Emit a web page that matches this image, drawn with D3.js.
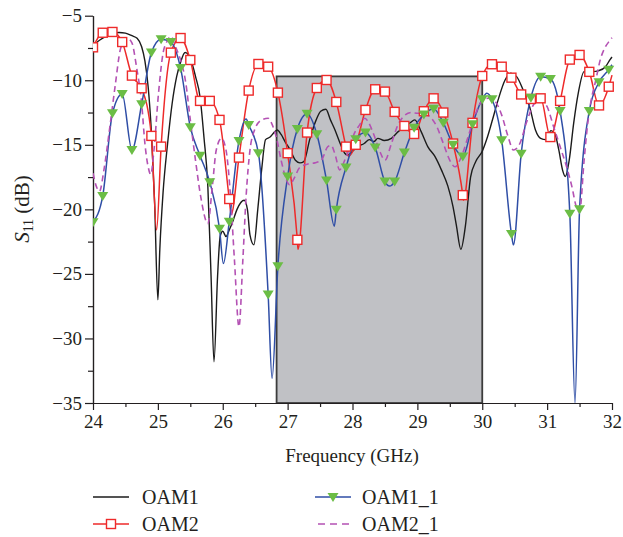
<!DOCTYPE html>
<html>
<head>
<meta charset="utf-8">
<script src="https://cdn.jsdelivr.net/npm/d3@7"></script>
<style>
  body { margin: 0; background: #fff; }
  text { font-family: "Liberation Serif", serif; fill: #231f20; }
</style>
</head>
<body>
<svg id="chart" width="623" height="537"></svg>
<script>
// marker frequencies (GHz) shared by OAM2 and OAM1_1
const markFreq = [24.00,24.15,24.30,24.45,24.60,24.75,24.90,25.05,25.20,25.35,
                  25.50,25.65,25.80,25.95,26.10,26.25,26.40,26.55,26.70,26.85,
                  27.00,27.15,27.30,27.45,27.60,27.75,27.90,28.05,28.20,28.35,
                  28.50,28.65,28.80,28.95,29.10,29.25,29.40,29.55,29.70,29.85,
                  30.00,30.15,30.30,30.45,30.60,30.75,30.90,31.05,31.20,31.35,
                  31.50,31.65,31.80,31.95];

const oam2Marks = [-7.45,-6.32,-6.26,-7.04,-9.64,-10.62,-14.31,-15.14,-7.86,-6.73,
                   -8.43,-11.6,-11.6,-13.07,-19.2,-15.99,-10.8,-8.74,-8.95,-10.96,
                   -15.65,-22.36,-14.05,-10.6,-9.98,-11.68,-15.14,-15.0,-12.3,-10.7,
                   -10.88,-12.45,-13.54,-14.16,-12.4,-11.4,-12.5,-14.9,-18.9,-13.3,
                   -9.67,-8.76,-8.95,-9.8,-11.1,-11.45,-11.4,-14.4,-11.6,-8.4,
                   -8.04,-9.35,-11.95,-10.5];
// extra line points between markers (dips)
const oam2Extra = [[24.98,-21.6],[26.13,-20.4],[27.16,-23.1],[27.94,-15.9],[29.71,-19.3],[32.0,-9.6]];

const oam11Marks = [-21.0,-18.96,-12.56,-11.06,-15.4,-11.86,-7.86,-6.83,-7.04,-9.06,
                    -13.64,-15.84,-17.9,-21.5,-20.97,-14.7,-13.46,-15.65,-26.6,-24.4,
                    -17.46,-13.77,-12.6,-14.18,-17.77,-20.04,-16.76,-14.57,-14.05,-15.2,
                    -17.85,-17.85,-15.6,-13.67,-12.65,-12.2,-13.3,-15.0,-15.9,-13.4,
                    -11.47,-11.47,-14.65,-21.9,-15.7,-11.35,-9.72,-9.9,-12.38,-20.35,
                    -20.0,-12.38,-10.15,-9.18];
const oam11Extra = [[26.01,-24.2],[26.36,-13.0],[26.76,-33.1],[27.72,-21.3],[28.57,-18.2],
                    [30.07,-11.0],[30.48,-22.75],[31.43,-35],[32.0,-8.8]];

const oam1 = [[24.0,-7.3],[24.1,-6.9],[24.2,-6.6],[24.3,-6.4],[24.4,-6.3],[24.5,-6.35],[24.6,-6.55],
  [24.68,-6.75],[24.75,-7.4],[24.8,-8.5],[24.85,-10.5],[24.9,-14.0],[24.95,-19.5],[25.0,-27.0],
  [25.03,-23.1],[25.08,-18.7],[25.15,-14.9],[25.22,-11.8],[25.29,-9.7],[25.35,-8.6],[25.42,-7.85],
  [25.5,-8.3],[25.58,-9.7],[25.65,-11.3],[25.71,-14.4],[25.77,-18.2],[25.82,-25.2],[25.865,-31.8],
  [25.92,-25.2],[25.96,-22.1],[26.0,-21.7],[26.05,-22.1],[26.1,-21.6],[26.15,-21.0],[26.22,-20.0],
  [26.33,-19.3],[26.38,-20.0],[26.42,-22.0],[26.48,-22.75],[26.54,-20.0],[26.6,-16.9],[26.66,-14.6],
  [26.73,-14.4],[26.8,-14.0],[26.84,-13.85],[26.9,-14.2],[26.96,-14.75],[27.04,-15.4],[27.12,-16.2],
  [27.19,-16.4],[27.25,-16.3],[27.34,-14.6],[27.44,-13.07],[27.51,-12.4],[27.59,-12.25],[27.66,-13.07],
  [27.73,-13.85],[27.81,-14.9],[27.88,-15.65],[27.93,-15.8],[28.0,-15.5],[28.08,-15.14],[28.18,-14.9],
  [28.26,-14.6],[28.33,-14.75],[28.39,-14.5],[28.49,-14.67],[28.6,-14.5],[28.7,-14.0],[28.78,-13.7],
  [28.88,-13.33],[28.96,-13.07],[29.06,-14.0],[29.16,-15.14],[29.27,-15.9],[29.37,-16.94],[29.47,-18.2],
  [29.55,-19.8],[29.6,-21.2],[29.67,-23.1],[29.74,-21.3],[29.82,-17.5],[29.9,-16.3],[30.0,-15.5],
  [30.08,-14.4],[30.15,-13.2],[30.24,-11.6],[30.35,-10.0],[30.44,-9.46],[30.53,-9.72],[30.63,-10.75],
  [30.73,-12.05],[30.82,-13.85],[30.9,-14.5],[30.98,-14.6],[31.06,-13.9],[31.12,-14.15],[31.18,-15.4],
  [31.24,-17.0],[31.28,-17.46],[31.34,-16.2],[31.41,-13.3],[31.48,-11.0],[31.57,-9.33],[31.7,-9.33],
  [31.8,-9.25],[31.9,-8.95],[31.97,-8.4],[32.0,-8.2]];

const oam21 = [[24.0,-17.2],[24.05,-18.2],[24.1,-18.6],[24.17,-16.9],[24.26,-13.6],[24.34,-10.5],
  [24.42,-7.65],[24.47,-7.0],[24.53,-6.75],[24.6,-7.1],[24.67,-8.95],[24.75,-11.8],[24.8,-14.9],
  [24.85,-16.7],[24.89,-17.3],[24.94,-15.4],[25.01,-11.0],[25.08,-7.9],[25.14,-7.0],[25.2,-6.6],
  [25.28,-7.5],[25.35,-8.43],[25.43,-10.2],[25.5,-13.07],[25.58,-16.2],[25.66,-19.0],[25.77,-21.1],
  [25.84,-18.2],[25.9,-15.4],[25.98,-14.5],[26.05,-15.4],[26.12,-19.0],[26.18,-23.9],[26.25,-29.1],
  [26.31,-23.9],[26.36,-19.0],[26.42,-15.4],[26.49,-13.85],[26.6,-13.07],[26.7,-12.94],[26.75,-13.3],
  [26.83,-14.5],[26.9,-16.2],[26.98,-17.7],[27.03,-18.1],[27.11,-17.5],[27.18,-16.8],[27.3,-16.5],
  [27.42,-16.4],[27.52,-16.2],[27.62,-15.14],[27.67,-15.05],[27.74,-15.9],[27.8,-16.94],[27.88,-16.2],
  [27.96,-15.14],[28.03,-14.1],[28.11,-13.46],[28.19,-12.94],[28.24,-13.2],[28.32,-14.1],[28.42,-15.5],
  [28.5,-16.2],[28.6,-14.9],[28.7,-13.46],[28.81,-12.7],[28.91,-12.5],[29.01,-12.56],[29.11,-12.56],
  [29.19,-12.8],[29.3,-13.6],[29.4,-14.9],[29.5,-16.2],[29.58,-16.7],[29.68,-15.9],[29.78,-14.4],
  [29.89,-12.7],[29.99,-11.65],[30.09,-11.4],[30.2,-11.65],[30.3,-12.7],[30.4,-14.4],[30.48,-15.4],
  [30.58,-14.9],[30.68,-13.3],[30.79,-11.9],[30.89,-11.5],[31.0,-12.05],[31.1,-13.6],[31.2,-15.14],
  [31.3,-16.7],[31.38,-18.2],[31.45,-19.8],[31.5,-20.2],[31.57,-16.2],[31.62,-13.6],[31.67,-11.8],
  [31.75,-10.0],[31.82,-8.4],[31.9,-7.4],[31.97,-6.9],[32.0,-6.7]];

// shaded band
const band = {f0: 26.83, f1: 30.0, top: -9.7};

const xTicks = [24,25,26,27,28,29,30,31,32];
const xMinor = [24.5,25.5,26.5,27.5,28.5,29.5,30.5,31.5];
const yTicks = [-35,-30,-25,-20,-15,-10,-5];
const yMinor = [-32.5,-27.5,-22.5,-17.5,-12.5,-7.5];

const colors = {oam1: "#1b1b1b", oam2: "#ee2a2a", oam11: "#2f4ea6", tri: "#6bbd45", oam21: "#b452b4"};

const svg = d3.select("#chart");
const x = d3.scaleLinear().domain([24, 32]).range([93, 612]);
const y = d3.scaleLinear().domain([-35, -5]).range([403, 15.7]);

svg.append("defs").append("clipPath").attr("id", "plot")
  .append("rect").attr("x", 93).attr("y", 10).attr("width", 522).attr("height", 393);

svg.append("rect")
  .attr("x", x(band.f0)).attr("y", y(band.top))
  .attr("width", x(band.f1) - x(band.f0)).attr("height", y(-35) - y(band.top))
  .attr("fill", "#c0c1c5").attr("stroke", "#3c3c3c").attr("stroke-width", 1.8);

// axes
const fmt = d3.format("d");
svg.append("g").attr("transform", "translate(0,403)")
  .call(d3.axisBottom(x).tickValues(xTicks).tickFormat(fmt).tickSize(7).tickSizeOuter(0).tickPadding(5));
svg.append("g").attr("transform", "translate(0,403)")
  .call(d3.axisBottom(x).tickValues(xMinor).tickFormat("").tickSize(4).tickSizeOuter(0));
svg.append("g").attr("transform", "translate(93,0)")
  .call(d3.axisLeft(y).tickValues(yTicks).tickFormat(fmt).tickSize(8).tickSizeOuter(0).tickPadding(3));
svg.append("g").attr("transform", "translate(93,0)")
  .call(d3.axisLeft(y).tickValues(yMinor).tickFormat("").tickSize(5).tickSizeOuter(0));
svg.selectAll(".domain, .tick line").attr("stroke", "#231f20").attr("stroke-width", 1.2);
svg.selectAll(".tick text").attr("font-size", 19).attr("font-family", "Liberation Serif").attr("fill", "#231f20");

// curves
const line = d3.line().x(d => x(d[0])).y(d => y(d[1])).curve(d3.curveMonotoneX);
const g = svg.append("g").attr("clip-path", "url(#plot)");

const oam2Pts = markFreq.map((f, i) => [f, oam2Marks[i]]);
const oam2Line = oam2Pts.concat(oam2Extra).sort((a, b) => a[0] - b[0]);
const oam11Pts = markFreq.map((f, i) => [f, oam11Marks[i]]);
const oam11Line = oam11Pts.concat(oam11Extra).sort((a, b) => a[0] - b[0]);

g.append("path").datum(oam1).attr("d", line)
  .attr("fill", "none").attr("stroke", colors.oam1).attr("stroke-width", 1.4);
g.append("path").datum(oam2Line).attr("d", line)
  .attr("fill", "none").attr("stroke", colors.oam2).attr("stroke-width", 1.5);
g.append("path").datum(oam11Line).attr("d", line)
  .attr("fill", "none").attr("stroke", colors.oam11).attr("stroke-width", 1.5);
g.append("path").datum(oam21).attr("d", line)
  .attr("fill", "none").attr("stroke", colors.oam21).attr("stroke-width", 1.6)
  .attr("stroke-dasharray", "6,4");

const tri = "M-5.5,-4 L5.5,-4 L0,5 Z";

g.selectAll(".sq").data(oam2Pts).enter().append("rect")
  .attr("x", d => x(d[0]) - 4.5).attr("y", d => y(d[1]) - 4.5)
  .attr("width", 9).attr("height", 9)
  .attr("fill", "#fff").attr("stroke", colors.oam2).attr("stroke-width", 1.4);

g.selectAll(".tri").data(oam11Pts).enter().append("path")
  .attr("d", tri).attr("transform", d => `translate(${x(d[0])},${y(d[1])})`)
  .attr("fill", colors.tri);

// axis titles
svg.append("text").attr("x", 352).attr("y", 462).attr("text-anchor", "middle")
  .attr("font-size", 19).text("Frequency (GHz)");
const yt = svg.append("text").attr("transform", "translate(29,209) rotate(-90)")
  .attr("text-anchor", "middle").attr("font-size", 21);
yt.append("tspan").attr("font-style", "italic").text("S");
yt.append("tspan").attr("font-size", 14).attr("dy", 4).text("11");
yt.append("tspan").attr("dy", -4).text(" (dB)");

// legend
const leg = svg.append("g");
function legLine(x0, x1, yy, color, dash) {
  leg.append("line").attr("x1", x0).attr("x2", x1).attr("y1", yy).attr("y2", yy)
    .attr("stroke", color).attr("stroke-width", 1.5).attr("stroke-dasharray", dash || null);
}
legLine(93, 129, 497, colors.oam1);
legLine(93, 129, 524, colors.oam2);
leg.append("rect").attr("x", 106.5).attr("y", 519.5).attr("width", 9).attr("height", 9)
  .attr("fill", "#fff").attr("stroke", colors.oam2).attr("stroke-width", 1.4);
legLine(315, 351, 497, colors.oam11);
leg.append("path").attr("d", tri).attr("transform", "translate(333,497)").attr("fill", colors.tri);
legLine(318, 351, 524, colors.oam21, "7,5");
const names = [["OAM1", 142, 497], ["OAM2", 142, 524], ["OAM1_1", 362, 497], ["OAM2_1", 362, 524]];
names.forEach(n => leg.append("text").attr("x", n[1]).attr("y", n[2]).attr("dy", "0.35em")
  .attr("font-size", 20).text(n[0]));
</script>
</body>
</html>
